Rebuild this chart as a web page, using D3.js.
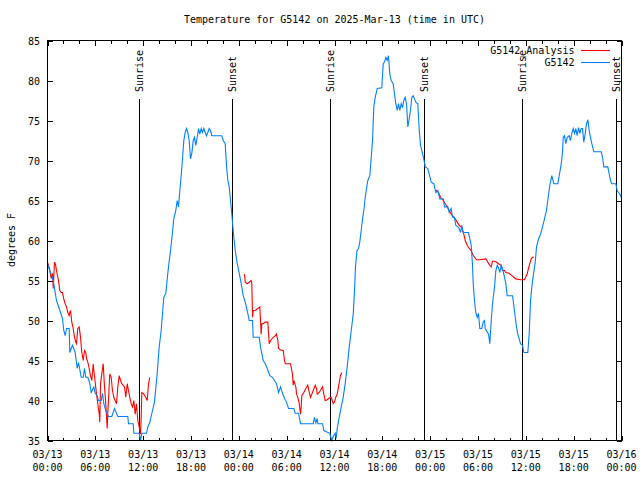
<!DOCTYPE html>
<html><head><meta charset="utf-8">
<script src="https://cdn.jsdelivr.net/npm/d3@7"></script>
<style>
body{margin:0;background:#fff}
svg{display:block}
text{font-family:"DejaVu Sans Mono","Liberation Mono",monospace;font-size:10px;fill:#000}
</style>
</head><body>
<svg id="c" width="640" height="480"></svg>
<script>
// ---------- data ----------
const chartTitle = "Temperature for G5142 on 2025-Mar-13 (time in UTC)";
const yLabel = "degrees F";
const yTickValues = [35, 40, 45, 50, 55, 60, 65, 70, 75, 80, 85];
const seriesNames = ["G5142_Analysis", "G5142"];
const seriesColors = ["#ff0000", "#0080ff"];
const sunHours = [11.48, 23.15, 35.48, 47.20, 59.50, 71.35];
const sunLabels = ["Sunrise", "Sunset", "Sunrise", "Sunset", "Sunrise", "Sunset"];

// hours since 2025-03-13 00:00 UTC
const obsHours = [0,0.38,0.72,1.13,1.63,1.88,2.04,2.22,2.38,2.72,2.80,2.97,3.14,3.47,3.73,3.89,4.23,4.48,4.64,4.80,5.06,5.31,5.48,5.81,5.98,6.23,6.40,6.74,6.90,7.06,7.31,7.65,8.07,8.40,8.66,8.82,10.07,10.16,10.75,10.83,11.50,11.67,11.83,12.42,12.58,12.83,13.17,13.42,13.76,14.01,14.26,14.59,14.84,15.09,15.27,15.43,15.68,15.84,16.09,16.27,16.43,16.60,16.77,16.93,17.10,17.27,17.44,17.60,17.77,17.94,18.10,18.28,18.44,18.60,18.78,18.94,19.10,19.28,19.44,19.61,19.78,19.94,20.11,20.28,20.45,20.61,21.86,22.04,22.29,22.45,22.62,22.79,22.96,23.12,23.29,23.46,23.55,23.80,24.05,24.30,24.55,24.80,25.05,25.30,25.72,25.80,26.56,26.72,26.88,27.06,27.31,27.56,27.89,28.22,28.47,28.73,28.98,29.23,29.48,29.73,29.98,30.23,30.90,31.07,31.49,31.74,33.33,33.49,33.66,33.83,33.91,34.50,34.66,35.41,35.66,35.84,36.09,36.21,36.34,36.59,36.84,37.09,37.34,37.59,37.85,38.10,38.35,38.51,38.63,38.82,39.01,39.17,39.35,39.51,39.68,39.85,40.02,40.18,40.43,40.61,40.77,40.93,41.11,41.36,41.93,42.11,42.27,42.44,42.61,42.77,42.94,43.11,43.36,43.53,43.69,43.87,44.03,44.19,44.37,44.53,44.69,44.87,45.03,45.20,45.37,45.53,45.70,45.87,46.04,46.20,46.45,46.63,46.79,46.95,47.20,47.38,47.70,47.88,48.13,48.46,48.71,48.96,49.21,49.64,49.80,50.21,50.39,50.64,50.80,51.05,51.21,51.47,51.64,51.81,51.97,52.15,52.81,52.97,53.15,53.31,53.40,53.56,53.72,53.90,54.06,54.23,54.48,54.65,54.82,54.90,55.32,55.48,55.66,55.82,56.07,56.24,56.41,56.57,56.74,56.91,57.07,57.33,57.49,57.66,58.33,58.49,58.67,58.83,58.99,59.17,59.33,59.58,59.75,60.25,60.42,60.59,60.75,60.93,61.18,61.34,61.59,61.84,62.09,62.34,62.59,62.85,63.01,63.26,63.51,64.01,64.26,64.44,64.60,64.69,64.85,65.01,65.19,65.44,65.60,65.77,65.94,66.11,66.27,66.44,66.61,66.77,66.94,67.11,67.27,67.45,67.61,67.78,67.95,68.11,68.28,68.53,69.46,69.62,69.78,70.28,70.46,70.62,70.78,71.29,71.46,71.63,71.79,71.96];
const obsTemps = [57.0,56.0,55.0,52.5,51.0,50.25,48.75,48.1,49.0,49.0,46.0,46.5,46.9,46.0,44.0,44.75,42.9,42.9,44.0,42.9,42.9,42.1,41.0,41.7,40.9,40.6,40.0,40.0,40.9,39.6,38.75,38.0,38.0,39.0,38.4,38.0,38.0,37.1,37.1,35.9,35.9,35.0,35.9,35.9,36.7,37.25,38.75,39.8,43.4,46.7,48.75,52.9,53.4,55.9,57.5,58.75,61.0,62.7,63.75,65.0,64.2,66.25,68.1,70.2,72.5,73.5,74.0,73.5,72.5,70.2,70.9,72.5,72.9,71.9,72.9,74.0,73.3,74.0,73.5,74.0,73.5,73.1,73.5,74.0,73.75,73.1,73.1,72.5,72.1,69.4,67.5,66.7,65.0,63.3,61.25,59.6,58.75,57.1,55.9,54.6,53.1,52.3,51.25,50.0,50.0,47.9,47.9,46.7,45.9,45.0,44.6,44.0,43.1,42.9,42.5,42.1,41.0,41.7,40.9,40.25,39.8,39.0,39.0,38.4,38.4,37.1,37.1,37.9,37.2,37.75,37.1,37.1,36.25,35.9,35.0,35.5,35.9,35.25,36.5,37.9,39.2,40.4,42.1,44.2,46.7,48.75,50.8,53.75,56.7,58.75,59.0,59.8,61.25,62.7,63.75,65.4,66.5,67.5,68.1,70.4,72.5,76.7,77.9,79.0,79.1,82.1,82.3,82.9,82.5,83.1,80.8,80.0,79.6,78.3,77.1,76.25,77.1,76.25,77.1,76.6,77.5,77.9,77.1,74.2,75.25,76.25,77.9,78.1,77.7,77.3,77.1,73.75,71.9,71.25,70.2,69.2,69.0,68.3,67.3,67.1,66.0,66.25,65.2,65.2,64.2,64.2,63.5,64.0,62.9,62.9,61.9,61.7,61.5,61.0,61.9,61.0,61.0,60.2,59.4,56.9,54.6,52.5,51.0,50.4,50.9,49.0,49.0,49.8,50.0,49.0,48.3,47.1,50.0,52.1,54.2,56.25,56.9,56.6,56.0,56.9,56.5,55.4,54.6,53.1,53.1,51.9,50.4,49.2,48.3,47.7,47.1,46.9,46.0,46.0,48.3,52.5,54.2,55.6,57.3,59.2,60.2,60.75,61.7,62.7,63.75,65.75,66.9,68.1,67.1,67.1,68.5,69.6,71.0,72.9,73.1,72.1,72.9,73.1,72.5,73.4,74.0,73.4,74.0,73.1,74.1,73.4,74.0,74.0,72.3,73.4,74.6,75.1,73.75,72.9,72.1,71.1,71.1,70.4,69.2,69.2,68.3,67.5,67.1,67.1,66.25,66.0,65.8,65.4];

// analysis series; null marks a gap between runs
const anaHours = [0,0.25,0.46,0.63,0.72,0.88,1.00,1.13,1.38,1.54,1.72,1.88,2.04,2.22,2.38,2.55,2.72,2.80,2.89,3.05,3.22,3.39,3.55,3.64,3.80,3.98,4.14,4.30,4.48,4.64,4.80,4.89,5.06,5.23,5.39,5.56,5.73,5.81,5.90,6.15,6.31,6.49,6.56,6.65,6.81,6.99,7.15,7.31,7.49,7.56,7.65,7.81,7.99,8.15,8.32,8.49,8.66,8.82,8.99,9.16,9.32,9.50,9.66,9.82,10.00,10.16,10.32,10.50,10.66,10.83,11.00,11.16,11.33,11.50,11.67,11.75,11.83,12.08,12.33,12.51,12.67,12.83,
  18.0,
  24.71,24.80,25.05,25.55,25.63,25.72,25.80,26.05,26.38,26.63,26.72,26.80,26.88,27.06,27.31,27.64,27.72,27.81,27.98,28.32,28.57,28.73,28.89,28.98,29.23,29.57,29.73,29.82,30.48,30.73,30.82,30.90,31.15,31.24,31.40,31.58,31.65,31.74,31.82,31.90,32.15,32.40,32.65,32.83,32.99,33.24,33.58,33.74,33.83,34.08,34.50,34.66,34.83,35.09,35.34,35.59,35.84,36.00,36.16,36.34,36.50,36.75,36.92,
  42.0,
  48.71,49.05,49.30,49.64,49.89,50.14,50.39,50.64,50.89,51.14,51.39,51.64,51.89,52.06,52.22,52.40,52.65,52.90,53.15,53.31,53.56,53.81,54.23,54.98,55.23,55.48,55.66,55.82,56.07,56.32,56.57,56.91,57.07,57.33,57.49,57.91,58.24,58.49,58.74,59.33,59.83,60.17,60.33,60.50,60.67,60.83,61.00];
const anaTemps = [57.25,56.5,55.25,55.9,54.0,57.3,57.0,56.25,55.0,53.75,53.5,53.5,52.7,52.1,51.7,51.0,50.6,51.0,51.25,49.8,49.0,47.9,47.3,47.1,49.0,49.2,47.9,46.0,45.0,46.25,46.0,45.25,44.8,44.0,43.1,42.5,44.6,43.75,43.0,40.8,39.6,38.3,37.3,42.1,43.3,44.6,41.7,39.6,36.5,38.4,40.0,43.3,42.9,41.25,40.4,40.0,39.6,41.7,43.1,42.5,42.1,41.9,41.7,40.4,42.1,41.25,40.4,39.6,39.2,40.0,38.3,39.6,37.5,36.7,35.8,37.9,41.0,40.8,40.4,40.0,42.1,42.9,
  null,
  55.8,54.8,54.6,55.0,54.6,50.4,51.25,51.25,51.5,51.7,50.0,48.3,49.6,49.6,49.8,49.8,48.5,47.1,47.5,47.9,48.1,48.3,47.5,46.5,46.3,46.25,45.0,44.6,44.6,43.3,41.9,42.5,41.7,40.8,40.4,39.6,39.0,38.3,39.2,40.6,41.0,41.5,41.9,41.0,40.4,41.0,41.9,41.5,40.8,41.0,41.7,40.8,40.0,40.1,40.3,40.4,39.6,39.8,40.4,40.8,41.7,43.1,43.5,
  null,
  66.3,66.0,65.4,65.0,64.6,64.2,63.75,63.3,63.0,62.7,62.3,61.9,61.7,61.25,60.8,60.0,59.4,59.0,58.75,58.3,57.9,57.6,57.6,57.7,57.3,56.9,56.7,57.4,57.4,57.3,57.1,56.9,56.25,56.25,56.0,55.9,55.6,55.4,55.2,55.1,55.1,55.8,56.5,57.1,57.7,57.9,57.9];

// ---------- chart ----------
const L = 47.5, R = 621.5, T = 40.5, B = 440.5;
const t0 = Date.UTC(2025, 2, 13);
const toDate = h => new Date(t0 + h * 3600e3);

const svg = d3.select("#c");
const x = d3.scaleUtc().domain([toDate(0), toDate(72)]).range([L, R]);
const y = d3.scaleLinear().domain([35, 85]).range([B, T]);

const g = svg.append("g");

// title
svg.append("text").attr("x", (L + R) / 2).attr("y", 23).attr("text-anchor", "middle").text(chartTitle);

// y label
svg.append("text").attr("transform", "translate(15,240) rotate(-90)").attr("text-anchor", "middle").text(yLabel);

// axes with inward ticks
const majorX = d3.utcHour.every(6).range(toDate(0), toDate(72.01));
const minorX = d3.utcHour.every(2).range(toDate(0), toDate(72.01));

const xBottomMinor = d3.axisBottom(x).tickValues(minorX).tickSize(-3).tickFormat("");
const xBottom = d3.axisBottom(x).tickValues(majorX).tickSize(-5).tickFormat("");
const xTopMinor = d3.axisTop(x).tickValues(minorX).tickSize(-3).tickFormat("");
const xTop = d3.axisTop(x).tickValues(majorX).tickSize(-5).tickFormat("");
const yLeft = d3.axisLeft(y).tickValues(yTickValues).tickSize(-5).tickFormat("");
const yRight = d3.axisRight(y).tickValues(yTickValues).tickSize(-5).tickFormat("");

[[xBottomMinor, `translate(0,${B})`], [xBottom, `translate(0,${B})`],
 [xTopMinor, `translate(0,${T})`], [xTop, `translate(0,${T})`],
 [yLeft, `translate(${L},0)`], [yRight, `translate(${R},0)`]].forEach(([ax, tr]) => {
  const a = g.append("g").attr("transform", tr).call(ax).attr("shape-rendering", "crispEdges");
  a.select(".domain").remove();
  a.selectAll("line").attr("stroke", "#000");
});

// y tick labels
g.selectAll(".ylab").data(yTickValues).join("text")
  .attr("x", 40).attr("y", d => y(d) + 4).attr("text-anchor", "end").text(d => d);

// x tick labels (two lines)
const fmtD = d3.utcFormat("%m/%d"), fmtT = d3.utcFormat("%H:%M");
const xl = g.selectAll(".xlab").data(majorX).join("text")
  .attr("text-anchor", "middle");
xl.append("tspan").attr("x", d => x(d)).attr("y", 458).text(d => fmtD(d));
xl.append("tspan").attr("x", d => x(d)).attr("y", 471).text(d => fmtT(d));

// sunrise / sunset lines
const sun = g.selectAll(".sun").data(sunHours.map((h, i) => ({ h, label: sunLabels[i] }))).join("g");
sun.append("line")
  .attr("x1", d => Math.round(x(toDate(d.h))) + 0.5).attr("x2", d => Math.round(x(toDate(d.h))) + 0.5)
  .attr("y1", 99).attr("y2", B).attr("stroke", "#000").attr("shape-rendering", "crispEdges");
sun.append("text")
  .attr("transform", d => `translate(${Math.round(x(toDate(d.h))) + 4},92) rotate(-90)`)
  .attr("text-anchor", "start").text(d => d.label);

// data lines
const line = d3.line()
  .defined(d => d.t !== null)
  .x(d => x(toDate(d.h))).y(d => y(d.t));

const obsData = obsHours.map((h, i) => ({ h, t: obsTemps[i] }));
const anaData = anaHours.map((h, i) => ({ h, t: anaTemps[i] }));

g.append("path").datum(anaData).attr("d", line)
  .attr("fill", "none").attr("stroke", seriesColors[0]).attr("stroke-width", 1.1);
g.append("path").datum(obsData).attr("d", line)
  .attr("fill", "none").attr("stroke", seriesColors[1]).attr("stroke-width", 1.1);

// frame
g.append("rect").attr("x", L).attr("y", T).attr("width", R - L).attr("height", B - T)
  .attr("fill", "none").attr("stroke", "#000").attr("shape-rendering", "crispEdges");

// legend
const leg = g.selectAll(".leg").data(seriesNames).join("g")
  .attr("transform", (d, i) => `translate(0,${50 + i * 12})`);
leg.append("text").attr("x", 574.5).attr("y", 4).attr("text-anchor", "end").text(d => d);
leg.append("line").attr("x1", 581).attr("x2", 610).attr("y1", 0.5).attr("y2", 0.5)
  .attr("stroke", (d, i) => seriesColors[i]).attr("stroke-width", 1.1);
</script>
</body></html>
